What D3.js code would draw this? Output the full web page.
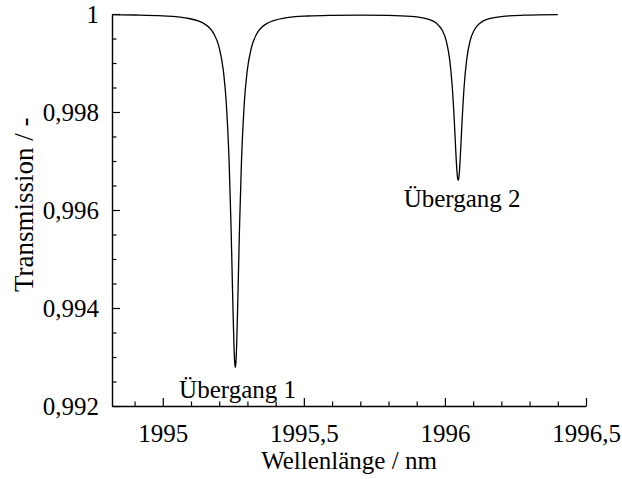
<!DOCTYPE html>
<html>
<head>
<meta charset="utf-8">
<script src="https://cdn.jsdelivr.net/npm/d3@7/dist/d3.min.js"></script>
<style>
  html, body { margin: 0; padding: 0; background: #fff; }
  svg { display: block; }
  text { font-family: "Liberation Serif", "Times New Roman", Times, serif; fill: #000; }
</style>
</head>
<body>
<svg id="chart" width="622" height="479"></svg>
<script>
// Wavelength samples (nm) and measured transmission
const wavelength = [
  1994.82, 1994.9, 1995.0, 1995.08, 1995.14, 1995.18, 1995.2, 1995.215, 1995.225,
  1995.235, 1995.242, 1995.248, 1995.252, 1995.255, 1995.257, 1995.259, 1995.262,
  1995.266, 1995.272, 1995.279, 1995.289, 1995.299, 1995.314, 1995.334, 1995.374,
  1995.434, 1995.514, 1995.6, 1995.7, 1995.8, 1995.88, 1995.94, 1995.97, 1995.99,
  1996.005, 1996.017, 1996.026, 1996.033, 1996.038, 1996.042, 1996.045, 1996.047,
  1996.049, 1996.052, 1996.056, 1996.061, 1996.068, 1996.077, 1996.089, 1996.104,
  1996.124, 1996.154, 1996.2, 1996.28, 1996.4
];
const transmission = [
  0.999986, 0.999980, 0.999962, 0.999921, 0.999823, 0.999605, 0.999312, 0.998828, 0.998193,
  0.997013, 0.995649, 0.994169, 0.993279, 0.992871, 0.992788, 0.992871, 0.993279,
  0.994169, 0.995649, 0.997013, 0.998193, 0.998828, 0.999311, 0.999604, 0.999822,
  0.999919, 0.999959, 0.999973, 0.999978, 0.999973, 0.999953, 0.999896, 0.999810, 0.999673,
  0.999445, 0.999063, 0.998516, 0.997842, 0.997256, 0.996838, 0.996646, 0.996607,
  0.996646, 0.996838, 0.997256, 0.997842, 0.998516, 0.999063, 0.999446, 0.999674,
  0.999812, 0.999899, 0.999948, 0.999976, 0.999989
];

// Axis ranges and ticks
const xDomain = [1994.82, 1996.5];
const yDomain = [0.992, 1.0];
const xMajorTicks = [1995, 1995.5, 1996, 1996.5];
const xMinorTicks = [1994.9, 1995.1, 1995.2, 1995.3, 1995.4, 1995.6, 1995.7, 1995.8, 1995.9,
                     1996.1, 1996.2, 1996.3, 1996.4];
const yMajorTicks = [0.992, 0.994, 0.996, 0.998, 1.0];
const yMinorTicks = [0.9925, 0.993, 0.9935, 0.9945, 0.995, 0.9955, 0.9965, 0.997, 0.9975,
                     0.9985, 0.999, 0.9995];

// Transition labels
const labelText = ["Übergang 1", "Übergang 2"];
const labelX = [1995.265, 1996.061];
const labelY = [0.992163, 0.996061];

const xTitle = "Wellenlänge / nm";
const yTitle = "Transmission / -";

(function () {
  const svg = d3.select("#chart");
  const plotLeft = 112, plotRight = 586, plotTop = 14, plotBottom = 406;
  const serif = '"Liberation Serif", "Times New Roman", Times, serif';

  const x = d3.scaleLinear().domain(xDomain).range([plotLeft, plotRight]);
  const y = d3.scaleLinear().domain(yDomain).range([plotBottom, plotTop]);

  // German number formatting (decimal comma)
  const de = d3.formatLocale({ decimal: ",", thousands: ".", grouping: [3], currency: ["", " €"] });
  const fmtX = v => de.format("~f")(+v.toFixed(1));
  const fmtY = v => de.format("~f")(+v.toFixed(3));

  const fontSize = 25;

  // Bottom axis: major ticks labelled, minor every 0.1 nm, all pointing inward
  const gx = svg.append("g").attr("transform", `translate(0,${plotBottom})`);
  gx.call(d3.axisBottom(x).tickValues(xMajorTicks).tickFormat(fmtX)
    .tickSizeInner(-8).tickSizeOuter(0).tickPadding(18));
  gx.append("g").call(d3.axisBottom(x).tickValues(xMinorTicks).tickFormat("")
    .tickSizeInner(-4.5).tickSizeOuter(0)).select(".domain").remove();

  // Left axis
  const gy = svg.append("g").attr("transform", `translate(${plotLeft},0)`);
  gy.call(d3.axisLeft(y).tickValues(yMajorTicks).tickFormat(fmtY)
    .tickSizeInner(-8).tickSizeOuter(0).tickPadding(13));
  gy.append("g").call(d3.axisLeft(y).tickValues(yMinorTicks).tickFormat("")
    .tickSizeInner(-4.5).tickSizeOuter(0)).select(".domain").remove();

  svg.selectAll("g").attr("font-family", serif);
  svg.selectAll(".domain").attr("stroke", "#000").attr("stroke-width", 1.4);
  svg.selectAll(".tick line").attr("stroke", "#000").attr("stroke-width", 1.2);
  svg.selectAll(".tick text")
    .attr("font-family", serif)
    .attr("font-size", fontSize).attr("fill", "#000");
  gx.selectAll(".tick text").attr("dy", "0.71em");

  // Transmission curve
  const pts = wavelength.map((w, i) => [w, transmission[i]]);
  const line = d3.line().x(d => x(d[0])).y(d => y(d[1])).curve(d3.curveMonotoneX);
  svg.append("path")
    .attr("d", line(pts))
    .attr("fill", "none")
    .attr("stroke", "#000")
    .attr("stroke-width", 1.3);

  // Transition labels
  svg.selectAll(".lbl").data(labelText).enter().append("text")
    .attr("class", "lbl")
    .attr("x", (d, i) => x(labelX[i]))
    .attr("y", (d, i) => y(labelY[i]))
    .attr("text-anchor", "middle")
    .attr("font-family", serif)
    .attr("font-size", fontSize)
    .text(d => d);

  // Axis titles
  svg.append("text")
    .attr("x", (plotLeft + plotRight) / 2)
    .attr("y", 469)
    .attr("text-anchor", "middle")
    .attr("font-family", serif)
    .attr("font-size", fontSize)
    .text(xTitle);

  svg.append("text")
    .attr("transform", "translate(33,292) rotate(-90)")
    .attr("text-anchor", "start")
    .attr("font-family", serif)
    .attr("font-size", 27)
    .text(yTitle);
})();
</script>
</body>
</html>
